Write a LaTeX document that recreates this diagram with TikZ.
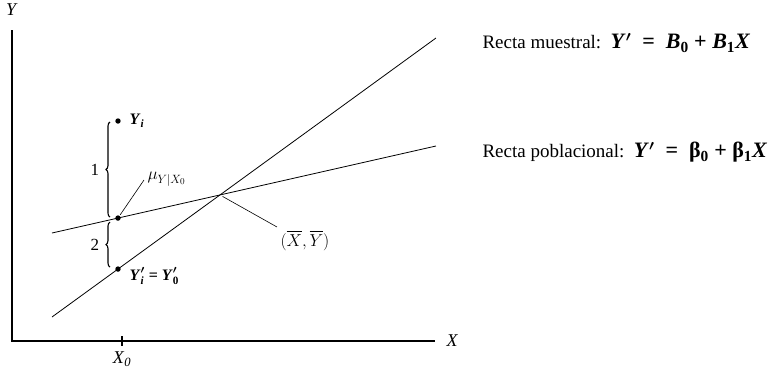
\documentclass[tikz,border=0pt]{standalone}
\usepackage{amsmath, amssymb}
\usepackage{bm}
\usepackage{fontspec}
\setmainfont{Liberation Serif}
\usepackage{tikz}
\usetikzlibrary{calc, intersections, decorations.pathreplacing}
\usepackage{tkz-euclide}
\newcommand{\bi}[1]{\textbf{\textit{#1}}}
\newcommand{\formula}{\fontsize{22}{24}\selectfont}

\begin{document}
\begin{tikzpicture}[scale=0.35146, font=\fontsize{17}{19}\selectfont,
            axis/.style={line width=1.6pt},
            recta/.style={line width=0.8pt},
            leader/.style={line width=0.6pt},
            rotulo/.style={anchor=base west, font=\fontsize{19}{21}\selectfont},
            llave/.style={decorate, decoration={brace, amplitude=4pt}, line width=1.1pt}]
            \useasboundingbox (0,0) rectangle (78.2,37.3);
            \tkzDefPoints{1.2/3.2/O, 1.2/34.3/T, 43.5/3.2/E, 12.2/2.7/K_1, 12.2/3.7/K_2}
            \tkzDefPoints{5.2/5.6/S_1, 43.6/33.5/S_2, 5.2/14/P_1, 43.6/22.7/P_2, 11.8/3.2/Q, 11.8/25.2/Y_i}
            \tkzInterLL(S_1,S_2)(P_1,P_2) \tkzGetPoint{M}
            \tkzInterLL(Q,Y_i)(P_1,P_2) \tkzGetPoint{U}
            \tkzInterLL(Q,Y_i)(S_1,S_2) \tkzGetPoint{V}
            \draw[axis] (T) -- (O) -- (E);
            \draw[line width=1.2pt] (K_1) -- (K_2);
            \draw[recta] (S_1) -- (S_2);
            \draw[recta] (P_1) -- (P_2);
            \fill (Y_i) circle (0.27) (U) circle (0.27) (V) circle (0.27);
            \draw[llave] ($(U)+(-0.8,0.1)$) -- ($(Y_i)+(-0.8,-0.1)$) node[midway, left=7pt] (one) {1};
            \draw[llave] ($(V)+(-0.8,0.2)$) -- ($(U)+(-0.8,-0.4)$) node[midway, left=7pt] (two) {2};
            \node[anchor=base, font=\fontsize{18}{20}\selectfont] (lblY) at (1.2,35.7) {\textit{Y}};
            \node[anchor=west, font=\fontsize{18}{20}\selectfont] (lblX) at (44.3,3.2) {\textit{X}};
            \node[anchor=base, font=\fontsize{18}{20}\selectfont] (lblX0) at (12.2,0.9) {\textit{X}$_{\textit{0}}$};
            \node[anchor=west, font=\fontsize{16}{18}\selectfont] (yi) at ($(Y_i)+(0.8,0)$) {\bi{Y}$_{\bi{i}}$};
            \node[anchor=west, font=\fontsize{16}{18}\selectfont] (yp) at ($(V)+(0.8,-0.7)$) {\bi{Y}$_{\bi{i}}^{\bm\prime}$ \textbf{=} \bi{Y}$_{\textbf{0}}^{\bm\prime}$};
            \node[anchor=base west, font=\fontsize{18}{20}\selectfont] (mu) at (14.4,19.3) {$\mu_{Y|X_0}$};
            \draw[leader, shorten <=4pt] (U) -- (mu.base west);
            \node[anchor=north west, font=\fontsize{19}{21}\selectfont] (mean) at (27.7,14.6) {$(\overline{X}, \overline{Y})$};
            \draw[leader, shorten <=3pt] (M) -- (mean.north west);
            \node[rotulo] (muestral) at (47.9,32.4) {Recta muestral:\ \ {\formula\bi{Y}$^{\bm\prime}$\enspace\textbf{=}\enspace\bi{B}$_{\textbf{0}}$\ \textbf{+}\ \bi{B}$_{\textbf{1}}$\bi{X}}};
            \node[rotulo] (poblacional) at (47.9,21.5) {Recta poblacional:\ \ {\formula\bi{Y}$^{\bm\prime}$\enspace\textbf{=}\enspace\textbf{β}$_{\textbf{0}}$\ \textbf{+}\ \textbf{β}$_{\textbf{1}}$\bi{X}}};
        \end{tikzpicture}
\end{document}
